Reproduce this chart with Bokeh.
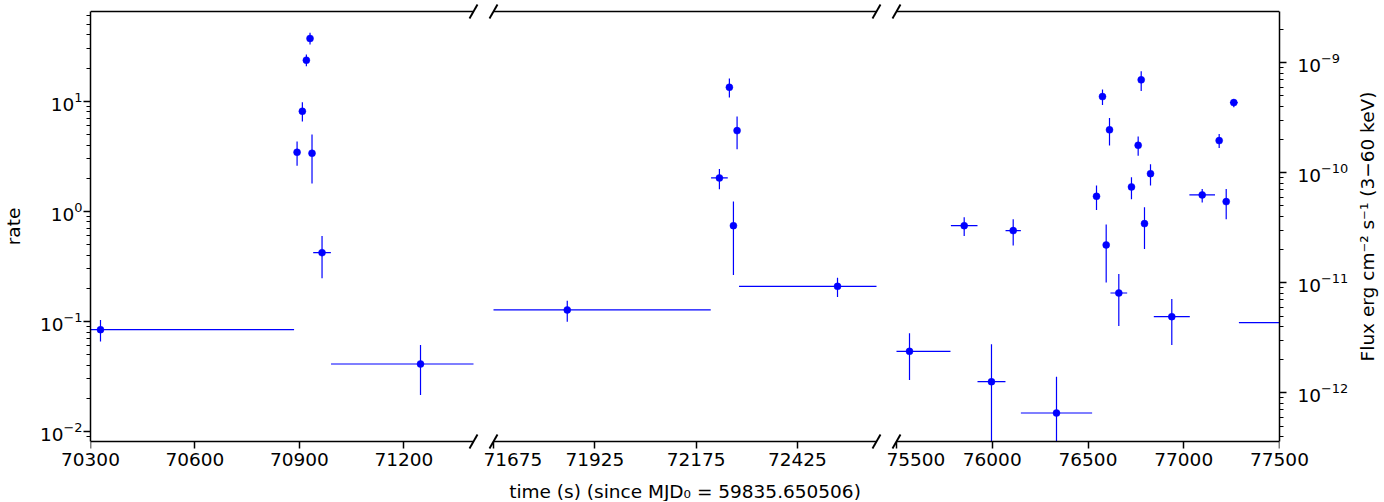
import math
from bokeh.plotting import figure
from bokeh.models import (ColumnDataSource, Range1d, LogAxis, LinearAxis, LogScale,
                          FixedTicker, LogTicker, Label)
from bokeh.layouts import row, column
from bokeh.embed import file_html
from bokeh.resources import INLINE

# ---------------- data ----------------
time_s = [70328.7, 70893.3, 70908.5, 70920.0, 70930.5, 70936.2, 70965.0, 71247.8,
          71857.0, 72232.4, 72257.0, 72267.0, 72276.0, 72523.8,
          75567.9, 75853.5, 75996.0, 76109.4, 76335.5, 76544.4, 76575.7, 76595.0,
          76612.3, 76660.9, 76727.0, 76762.0, 76777.8, 76795.0, 76826.4, 76937.6,
          77096.4, 77185.0, 77221.7, 77261.4, 77520.0]
time_err = [556, 4, 4, 4, 4, 4, 25.4, 257,
            354, 20.6, 4, 4, 4, 243,
            214, 69.5, 73, 40, 186, 15, 6, 6,
            6, 43.6, 15, 6, 6, 6, 6, 94,
            67, 6, 6, 20, 232]
rate = [0.0841, 3.44, 8.11, 23.6, 37.2, 3.37, 0.421, 0.041,
        0.127, 2.01, 13.4, 0.741, 5.41, 0.208,
        0.0534, 0.741, 0.0283, 0.668, 0.0147, 1.369, 11.03, 0.495,
        5.50, 0.181, 1.666, 3.98, 15.65, 0.773, 2.20, 0.1104,
        1.41, 4.39, 1.225, 9.73, 0.0973]
rate_lo = [0.0658, 2.60, 6.54, 20.8, 32.8, 1.79, 0.246, 0.0214,
           0.0994, 1.585, 10.8, 0.264, 3.66, 0.1667,
           0.0293, 0.598, 0.0001, 0.488, 0.0001, 1.03, 9.27, 0.226,
           3.96, 0.0908, 1.285, 3.19, 12.4, 0.455, 1.713, 0.061,
           1.2, 3.77, 0.846, 8.82, 0.075]
rate_hi = [0.103, 4.30, 9.79, 26.6, 41.9, 4.98, 0.598, 0.061,
           0.154, 2.43, 16.1, 1.225, 7.26, 0.2495,
           0.0778, 0.882, 0.0618, 0.846, 0.0314, 1.713, 12.78, 0.757,
           7.06, 0.27, 2.04, 4.79, 18.7, 1.087, 2.675, 0.16,
           1.598, 5.05, 1.598, 10.43, 0.12]

panel_ranges = [(70300, 71400), (71675, 72620), (75500, 77500)]
panel_ticks = [[70300, 70600, 70900, 71200],
               [71675, 71925, 72175, 72425],
               [75500, 76000, 76500, 77000, 77500]]
rate_range = (0.0081, 65.4)
flux_per_rate = 4.47e-11  # erg cm^-2 s^-1 per count/s

x_label = "time (s) (since MJD\u2080 = 59835.650506)"
y_label = "rate"
flux_label = "Flux erg cm\u207b\u00b2 s\u207b\u00b9 (3\u221260 keV)"

# ---------------- layout ----------------
FONT = "DejaVu Sans"
FS = "18.5px"
SPINE_W = 383       # width of each panel's axes box
GAP_HALF = 10       # half of the gap between panels
SPINE_H = 430
PAD_V = 8           # frame extends above/below the axes box (room for break marks)
TOP = 3
FH = SPINE_H + 2 * PAD_V
BOTTOM = 32
H = TOP + FH + BOTTOM
YLABEL_W = 26       # strip holding the "rate" title
LEFT = 64           # room for the left tick labels
RIGHT = 73
LABEL_W = 30
XLABEL_H = 20
BLUE = "#0000ff"

y0, y1 = rate_range
dpp = math.log10(y1 / y0) / SPINE_H          # decades per pixel
Y0 = y0 * 10 ** (-PAD_V * dpp)
Y1 = y1 * 10 ** (PAD_V * dpp)


def style_axis(ax):
    ax.axis_line_width = 1.5
    ax.axis_line_color = "black"
    ax.major_tick_line_width = 1.5
    ax.major_tick_line_color = "black"
    ax.major_tick_out = 7
    ax.major_tick_in = 0
    ax.minor_tick_line_width = 1.1
    ax.minor_tick_line_color = "black"
    ax.minor_tick_out = 4
    ax.minor_tick_in = 0
    ax.major_label_text_font = FONT
    ax.major_label_text_font_size = FS
    ax.major_label_text_color = "black"
    ax.axis_label_text_font = FONT
    ax.axis_label_text_font_size = FS
    ax.axis_label_text_font_style = "normal"
    ax.axis_label_text_color = "black"


def base_fig(width, height, xr, yr, **kw):
    f = figure(width=width, height=height, x_range=xr, y_range=yr,
               output_backend="svg", toolbar_location=None, **kw)
    f.outline_line_color = None
    f.grid.visible = False
    f.background_fill_color = "white"
    f.border_fill_color = "white"
    return f


def title_strip(width, text):
    f = base_fig(width, H, Range1d(0, 1), Range1d(0, 1),
                 x_axis_location=None, y_axis_location=None,
                 min_border_left=0, min_border_right=0,
                 min_border_top=TOP, min_border_bottom=BOTTOM)
    f.add_layout(Label(x=0.5, y=0.5, text=text, angle=math.pi / 2,
                       text_align="center", text_baseline="middle",
                       text_font=FONT, text_font_size=FS, text_color="black"))
    return f


figs = [title_strip(YLABEL_W, y_label)]
for i, ((a, b), ticks) in enumerate(zip(panel_ranges, panel_ticks)):
    spp = (b - a) / SPINE_W                   # seconds per pixel
    padL = GAP_HALF if i > 0 else 0
    padR = GAP_HALF if i < 2 else 0
    bl = LEFT if i == 0 else 0
    br = RIGHT if i == 2 else 0
    p = base_fig(bl + SPINE_W + padL + padR + br, H,
                 Range1d(a - padL * spp, b + padR * spp), Range1d(Y0, Y1),
                 y_axis_type="log", y_axis_location="left" if i == 0 else None,
                 min_border_left=bl, min_border_right=br,
                 min_border_top=TOP, min_border_bottom=BOTTOM)

    # tick labels of the time axis
    bax = p.below[0]
    style_axis(bax)
    bax.ticker = FixedTicker(ticks=ticks)
    bax.axis_line_color = None
    bax.major_tick_line_color = None
    bax.minor_tick_line_color = None
    bax.major_tick_out = 0
    bax.minor_tick_out = 0
    bax.major_label_standoff = 3

    # bottom spine + ticks of the time axis, pinned to the axes box
    sax = LinearAxis(ticker=FixedTicker(ticks=ticks), fixed_location=y0, bounds=(a, b))
    style_axis(sax)
    sax.major_tick_out = 0
    sax.major_tick_in = 7
    sax.minor_tick_line_color = None
    sax.minor_tick_out = 0
    sax.major_label_text_color = None
    sax.major_label_standoff = 0
    p.add_layout(sax, "above")

    if i == 0:
        lax = p.left[0]
        style_axis(lax)
        lax.ticker = LogTicker(num_minor_ticks=10)
        lax.bounds = (y0, y1)
        lax.major_label_standoff = 1

    if i == 2:
        p.extra_y_ranges = {"flux": Range1d(Y0 * flux_per_rate, Y1 * flux_per_rate)}
        p.extra_y_scales = {"flux": LogScale()}
        rax = LogAxis(y_range_name="flux", ticker=LogTicker(num_minor_ticks=10),
                      bounds=(y0 * flux_per_rate, y1 * flux_per_rate))
        style_axis(rax)
        rax.major_label_standoff = 11
        p.add_layout(rax, "right")

    # top spine of the axes box
    p.segment(x0=[a], x1=[b], y0=[y1], y1=[y1], line_color="black", line_width=1.5)

    # data of this panel (error bars cut at the panel's edges)
    h = dict(x0=[], x1=[], y=[])
    d = dict(x=[], y=[], lo=[], hi=[])
    for t, e, r, lo, hi in zip(time_s, time_err, rate, rate_lo, rate_hi):
        if t + e >= a and t - e <= b:
            h["x0"].append(max(t - e, a))
            h["x1"].append(min(t + e, b))
            h["y"].append(r)
        if a <= t <= b:
            d["x"].append(t)
            d["y"].append(r)
            d["lo"].append(max(lo, y0))
            d["hi"].append(min(hi, y1))
    hsrc = ColumnDataSource(h)
    dsrc = ColumnDataSource(d)
    p.segment(x0="x0", x1="x1", y0="y", y1="y", source=hsrc,
              line_color=BLUE, line_width=1.2)
    p.segment(x0="x", x1="x", y0="lo", y1="hi", source=dsrc,
              line_color=BLUE, line_width=1.2)
    p.scatter(x="x", y="y", source=dsrc, size=7, marker="circle",
              fill_color=BLUE, line_color=BLUE, line_width=0.5)

    # break marks "//" at the cut edges
    edges = ([a] if i > 0 else []) + ([b] if i < 2 else [])
    bx0, bx1, by0, by1 = [], [], [], []
    for xe in edges:
        for ye in rate_range:
            bx0.append(xe - 4 * spp)
            bx1.append(xe + 4 * spp)
            by0.append(ye * 10 ** (-7 * dpp))
            by1.append(ye * 10 ** (7 * dpp))
    p.segment(x0=bx0, x1=bx1, y0=by0, y1=by1, line_color="black", line_width=1.9)
    figs.append(p)

# right-hand axis title (reads bottom to top)
figs.append(title_strip(LABEL_W, flux_label))

total_w = sum(f.width for f in figs)
x_center = YLABEL_W + LEFT + SPINE_W + 2 * GAP_HALF + SPINE_W / 2

px = base_fig(total_w, XLABEL_H, Range1d(0, total_w), Range1d(0, 1),
              x_axis_location=None, y_axis_location=None,
              min_border_left=0, min_border_right=0,
              min_border_top=0, min_border_bottom=0)
px.add_layout(Label(x=x_center, y=0.5, text=x_label,
                    text_align="center", text_baseline="middle",
                    text_font=FONT, text_font_size=FS, text_color="black"))

layout = column(row(*figs), px)
open("out.html", "w").write(file_html(layout, INLINE))
